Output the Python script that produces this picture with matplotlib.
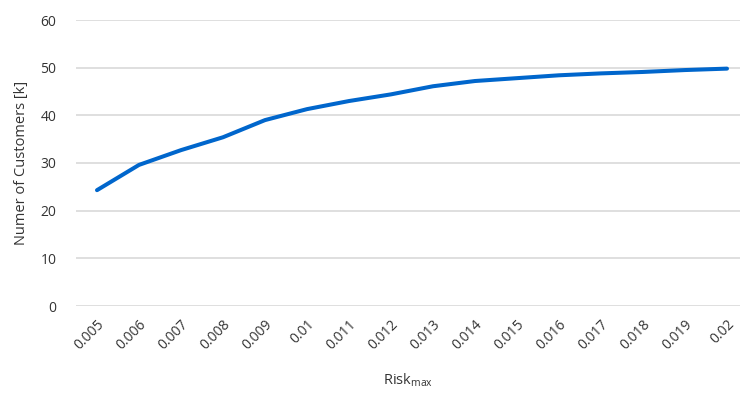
import matplotlib
matplotlib.use("Agg")
import matplotlib.pyplot as plt

# Дані з графіка
risk_labels = ["0.005", "0.006", "0.007", "0.008", "0.009", "0.01", "0.011", "0.012",
               "0.013", "0.014", "0.015", "0.016", "0.017", "0.018", "0.019", "0.02"]
customers = [24.3, 29.6, 32.7, 35.4, 39.0, 41.3, 43.0, 44.4,
             46.1, 47.2, 47.8, 48.4, 48.8, 49.1, 49.5, 49.8]
y_ticks = [0, 10, 20, 30, 40, 50, 60]

plt.rcParams['font.family'] = ['Open Sans', 'DejaVu Sans']

fig = plt.figure(figsize=(7.4, 3.98), dpi=100)
ax = fig.add_axes([76 / 740, 1 - 306 / 398, (740 - 76) / 740, (306 - 20) / 398])

x = list(range(len(risk_labels)))
ax.plot(x, customers, color='#0066CC', linewidth=2.9, solid_capstyle='round',
        solid_joinstyle='round')

ax.set_xlim(-0.5, (740 - 97) / 42)
ax.set_ylim(0, 60)
ax.set_yticks(y_ticks)
ax.set_xticks(x)
ax.set_xticklabels(risk_labels, rotation=45, ha='right', rotation_mode='anchor')
ax.tick_params(axis='both', length=0, labelsize=10, colors='#333333')
ax.tick_params(axis='x', pad=8)
ax.tick_params(axis='y', pad=14)

ax.grid(axis='y', color='#D9D9D9', linewidth=1.2)
ax.set_axisbelow(True)
for s in ax.spines.values():
    s.set_visible(False)

ax.set_xlabel('Risk$_{\\mathregular{max}}$', fontsize=10.5, color='#333333', labelpad=13)
ax.set_ylabel('Numer of Customers [k]', fontsize=10.5, color='#333333', labelpad=8)

fig.savefig('out.png', dpi=100)
